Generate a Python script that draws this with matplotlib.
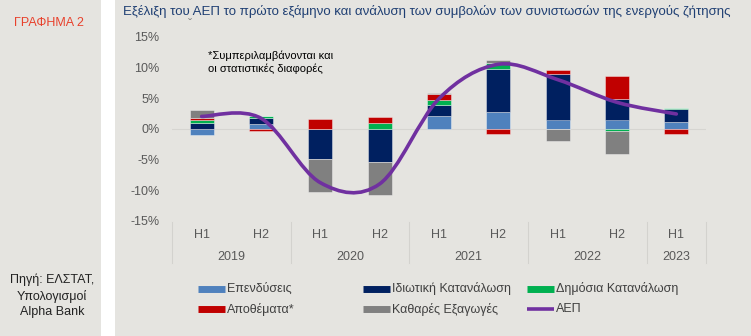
import numpy as np
import matplotlib.pyplot as plt
from matplotlib.path import Path
from matplotlib.patches import PathPatch, Rectangle
from matplotlib.lines import Line2D
from matplotlib.transforms import blended_transform_factory

plt.rcParams['font.family'] = ['Liberation Sans', 'DejaVu Sans']

# Εξάμηνα και έτη του άξονα x
halves = ['H1', 'H2', 'H1', 'H2', 'H1', 'H2', 'H1', 'H2', 'H1']
years = ['2019', '2020', '2021', '2022', '2023']
year_first = [0, 2, 4, 6, 8]
year_last = [1, 3, 5, 7, 8]

# Συμβολές στη μεταβολή του ΑΕΠ (ποσοστιαίες μονάδες)
investment = [-1.1, 0.7, -0.1, -0.1, 2.1, 2.7, 1.5, 1.5, 1.15]
private_cons = [1.0, 1.0, -4.9, -5.3, 1.7, 7.0, 7.5, 3.3, 2.0]
public_cons = [0.45, 0.3, 0.0, 1.0, 0.9, 1.0, -0.1, -0.4, 0.15]
inventories = [0.3, -0.4, 1.6, 0.95, 0.95, -0.8, 0.55, 3.75, -0.8]
net_exports = [1.25, 0.0, -5.3, -5.4, 0.25, 0.55, -1.9, -3.7, 0.0]
gdp = [2.0, 1.7, -8.8, -9.0, 4.9, 10.5, 8.0, 4.3, 2.4]

series = [investment, private_cons, public_cons, inventories, net_exports]
names = ['Επενδύσεις', 'Ιδιωτική Κατανάλωση', 'Δημόσια Κατανάλωση',
         'Αποθέματα*', 'Καθαρές Εξαγωγές']
colors = ['#4F81BD', '#002060', '#00B050', '#C00000', '#808080']
gdp_color = '#7030A0'

W, H = 751, 336
bg = '#E5E4E0'


def px(x, y):
    return x / W, 1 - y / H


fig = plt.figure(figsize=(W / 100, H / 100), dpi=100, facecolor='white')

# δύο γκρι πλαίσια με λευκή λωρίδα ανάμεσα
fig.add_artist(Rectangle((0, 0), 101 / W, 1, transform=fig.transFigure,
                         facecolor=bg, edgecolor='none', zorder=0))
fig.add_artist(Rectangle((115 / W, 0), 1 - 115 / W, 1, transform=fig.transFigure,
                         facecolor=bg, edgecolor='none', zorder=0))

left, right, top, bottom = 172, 706, 36.7, 220.7
ax = fig.add_axes([left / W, 1 - bottom / H, (right - left) / W, (bottom - top) / H])
ax.set_facecolor('none')

x = np.arange(len(halves))
pos_base = np.zeros(len(x))
neg_base = np.zeros(len(x))
for vals, c in zip(series, colors):
    v = np.array(vals)
    base = np.where(v >= 0, pos_base, neg_base)
    ax.bar(x, v, 0.405, bottom=base, color=c, edgecolor=(1, 1, 1, 0.45),
           linewidth=0.6, zorder=2)
    pos_base += np.where(v >= 0, v, 0)
    neg_base += np.where(v < 0, v, 0)

ax.axhline(0, color='#D6D5D1', lw=0.8, zorder=1)

# ομαλή καμπύλη ΑΕΠ (Bezier μέσω των σημείων)
y = np.array(gdp, dtype=float)
verts = [(x[0], y[0])]
codes = [Path.MOVETO]
n = len(y)
for i in range(n - 1):
    xa, ya = (x[i - 1], y[i - 1]) if i > 0 else (x[i], y[i])
    xd, yd = (x[i + 2], y[i + 2]) if i + 2 < n else (x[i + 1], y[i + 1])
    c1 = (x[i] + (x[i + 1] - xa) / 6, y[i] + (y[i + 1] - ya) / 6)
    c2 = (x[i + 1] - (xd - x[i]) / 6, y[i + 1] - (yd - y[i]) / 6)
    verts += [c1, c2, (x[i + 1], y[i + 1])]
    codes += [Path.CURVE4] * 3
ax.add_patch(PathPatch(Path(verts, codes), facecolor='none', edgecolor=gdp_color,
                       lw=2.6, capstyle='round', zorder=4))

ax.set_xlim(-0.5, len(x) - 0.5)
ax.set_ylim(-15, 15)
ax.set_yticks(np.arange(-15, 16, 5))
ax.set_yticklabels([f'{v}%' for v in range(-15, 16, 5)])
ax.set_xticks([])
ax.tick_params(axis='y', length=0, pad=9, labelsize=9, labelcolor='#595959')
for s in ax.spines.values():
    s.set_visible(False)

# άξονας κατηγοριών σε δύο επίπεδα
trans = blended_transform_factory(ax.transData, ax.transAxes)
ah = bottom - top
for xi, lab in zip(x, halves):
    ax.text(xi, -14.5 / ah, lab, transform=trans, ha='center', va='center',
            fontsize=9, color='#595959')
for yr, a, b in zip(years, year_first, year_last):
    ax.text((a + b) / 2, -36 / ah, yr, transform=trans, ha='center', va='center',
            fontsize=9, color='#595959')
for b in [-0.5] + [v + 0.5 for v in year_last]:
    ax.add_line(Line2D([b, b], [-1.5 / ah, -42.5 / ah], transform=trans,
                       color='#D3D2CE', lw=0.8, clip_on=False))

ax.text(0.107, 10.8, '*Συμπεριλαμβάνονται και\nοι στατιστικές διαφορές',
        fontsize=8, color='black', va='center', linespacing=1.35)

# τίτλοι και πηγή
fig.text(*px(123, 11), 'Εξέλιξη του ΑΕΠ το πρώτο εξάμηνο και ανάλυση των συμβολών '
         'των συνιστωσών της ενεργούς ζήτησης', fontsize=9.55, color='#1F3F73',
         va='center', ha='left')
fig.text(*px(190, 25), 'ˇ', fontsize=9, color='#8A8A8A', ha='center', va='center')
fig.text(*px(49, 23), 'ΓΡΑΦΗΜΑ 2', fontsize=9, color='#E8412C',
         ha='center', va='center')
fig.text(*px(52, 296), 'Πηγή: ΕΛΣΤΑΤ,\nΥπολογισμοί\nAlpha Bank', fontsize=9,
         color='#222222', ha='center', va='center', linespacing=1.35)

# υπόμνημα
entries = [(names[0], colors[0], 198, 288.5, 5), (names[3], colors[3], 198, 309, 5),
           (names[1], colors[1], 363, 288.5, 5), (names[4], colors[4], 363, 309, 5),
           (names[2], colors[2], 527, 288.5, 5), ('ΑΕΠ', gdp_color, 527, 309, 2.6)]
for lab, c, lx, ly, lw in entries:
    x0, y0 = px(lx, ly)
    x1, _ = px(lx + 27, ly)
    fig.add_artist(Line2D([x0, x1], [y0, y0], transform=fig.transFigure,
                          color=c, lw=lw, solid_capstyle='butt'))
    fig.text(*px(lx + 29, ly), lab, fontsize=9, color='#404040', va='center', ha='left')

fig.savefig('out.png', dpi=100, facecolor='white')
